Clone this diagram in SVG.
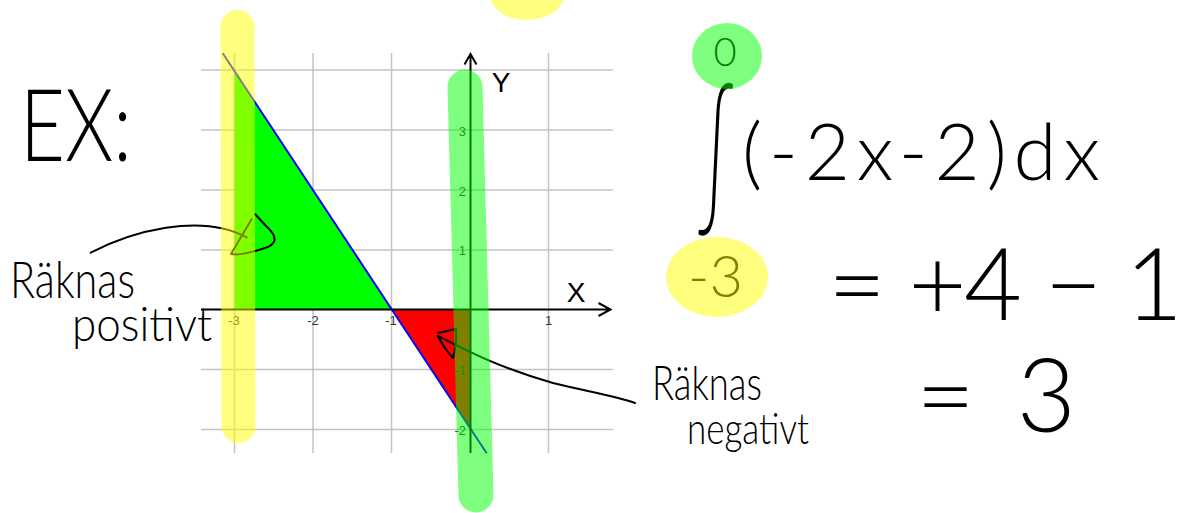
<svg xmlns="http://www.w3.org/2000/svg" width="1183" height="513" viewBox="0 0 1183 513">
<style>
.grid{stroke:#c4c4c4;stroke-width:1.5;fill:none}
.axis{stroke:#000;stroke-width:2;fill:none}
.tick{font-family:"Liberation Sans",Arial,sans-serif;font-size:13px;fill:#333}
.axlab{font-family:"Liberation Sans",Arial,sans-serif;font-size:28px;fill:#000;text-anchor:middle}
.hand{font-family:"Lato","DejaVu Sans",sans-serif;font-weight:300;fill:#000}
.ink{stroke:#000;stroke-width:2;fill:none;stroke-linecap:round;stroke-linejoin:round}
.hly{stroke:rgba(255,255,0,0.5);stroke-width:34;stroke-linecap:round;fill:none}
.hlg{stroke:rgba(0,255,0,0.5);stroke-width:35;stroke-linecap:round;fill:none}
</style>
<rect width="1183" height="513" fill="#fff"/>
<g id="graph">
  <g id="grid">
    <path class="grid" d="M234.5,53V453M313,53V453M391.5,53V453M548.5,53V453"/>
    <path class="grid" d="M201,70H613M201,130H613M201,190H613M201,250H613M201,369.5H613M201,429.5H613"/>
  </g>
  <polygon id="area-positive" points="234.5,69.9 234.5,309.5 391.5,309.5" fill="#00ff00"/>
  <polygon id="area-negative" points="391.5,309.5 470.5,309.5 470.5,429.3" fill="#ff0000"/>
  <line id="func-line" x1="222.7" y1="53.3" x2="486.7" y2="453.3" stroke="#0000ff" stroke-width="2"/>
  <g id="axes">
    <path class="axis" d="M201,309.5H610.5M598.5,303L610.5,309.5L598.5,316"/>
    <path class="axis" d="M470.5,453V54M464.5,64.5L470.5,54L476.5,64.5"/>
    <text class="axlab" x="576" y="302">X</text>
    <text class="axlab" x="501" y="92">Y</text>
  </g>
  <g id="ticks">
    <text class="tick" x="234" y="325" text-anchor="middle">-3</text>
    <text class="tick" x="313" y="325" text-anchor="middle">-2</text>
    <text class="tick" x="391" y="325" text-anchor="middle">-1</text>
    <text class="tick" x="548.5" y="325" text-anchor="middle">1</text>
    <text class="tick" x="466" y="136" text-anchor="end">3</text>
    <text class="tick" x="466" y="196" text-anchor="end">2</text>
    <text class="tick" x="466" y="255" text-anchor="end">1</text>
    <text class="tick" x="466" y="375" text-anchor="end">-1</text>
    <text class="tick" x="466" y="435" text-anchor="end">-2</text>
  </g>
</g>
<g id="notes">
  <text class="hand" x="20" y="161" font-size="100" textLength="112" lengthAdjust="spacingAndGlyphs">EX:</text>
  <text class="hand" x="10" y="298" font-size="52" textLength="125" lengthAdjust="spacingAndGlyphs">Räknas</text>
  <text class="hand" x="72" y="341" font-size="47" textLength="140" lengthAdjust="spacingAndGlyphs">positivt</text>
  <path class="ink" d="M90.7,252.7C130,232 200,212 246.7,237.3"/>
  <path class="ink" d="M251.7,219L231,254Q240,256 262,249Q285,243 266,226L255,214"/>
  <text class="hand" x="652" y="400" font-size="47" textLength="110" lengthAdjust="spacingAndGlyphs">Räknas</text>
  <text class="hand" x="687" y="444" font-size="43" textLength="122" lengthAdjust="spacingAndGlyphs">negativt</text>
  <path class="ink" d="M438,336C470,352 500,368 553,383C590,392 615,396 635,403"/>
  <path class="ink" d="M438,333L456,329Q457,345 453,358Q445,350 438,336"/>
</g>
<g id="integral">
  <text class="hand" x="725" y="66" font-size="40" text-anchor="middle">0</text>
  <text class="hand" font-size="154" transform="matrix(0.45 0 0 1 698 208)" x="0" y="0">∫</text>
  <text class="hand" x="688" y="297" font-size="58" textLength="55" lengthAdjust="spacingAndGlyphs">-3</text>
  <text class="hand" x="742" y="180" font-size="78" textLength="358" lengthAdjust="spacing">(-2x-2)dx</text>
  <text class="hand" x="828" y="320" font-size="100" textLength="355" lengthAdjust="spacing">= +4 − 1</text>
  <text class="hand" x="916" y="432" font-size="102" textLength="160" lengthAdjust="spacing">= 3</text>
</g>
<g id="highlights">
  <line class="hly" x1="237.5" y1="27" x2="238.5" y2="426"/>
  <line class="hlg" x1="465" y1="87" x2="476" y2="495"/>
  <ellipse cx="527" cy="-5" rx="37" ry="25" fill="rgba(255,255,0,0.5)"/>
  <ellipse cx="727" cy="56" rx="35" ry="33" fill="rgba(0,255,0,0.5)"/>
  <ellipse cx="717" cy="277" rx="51" ry="40" fill="rgba(255,255,0,0.5)"/>
</g>
</svg>
